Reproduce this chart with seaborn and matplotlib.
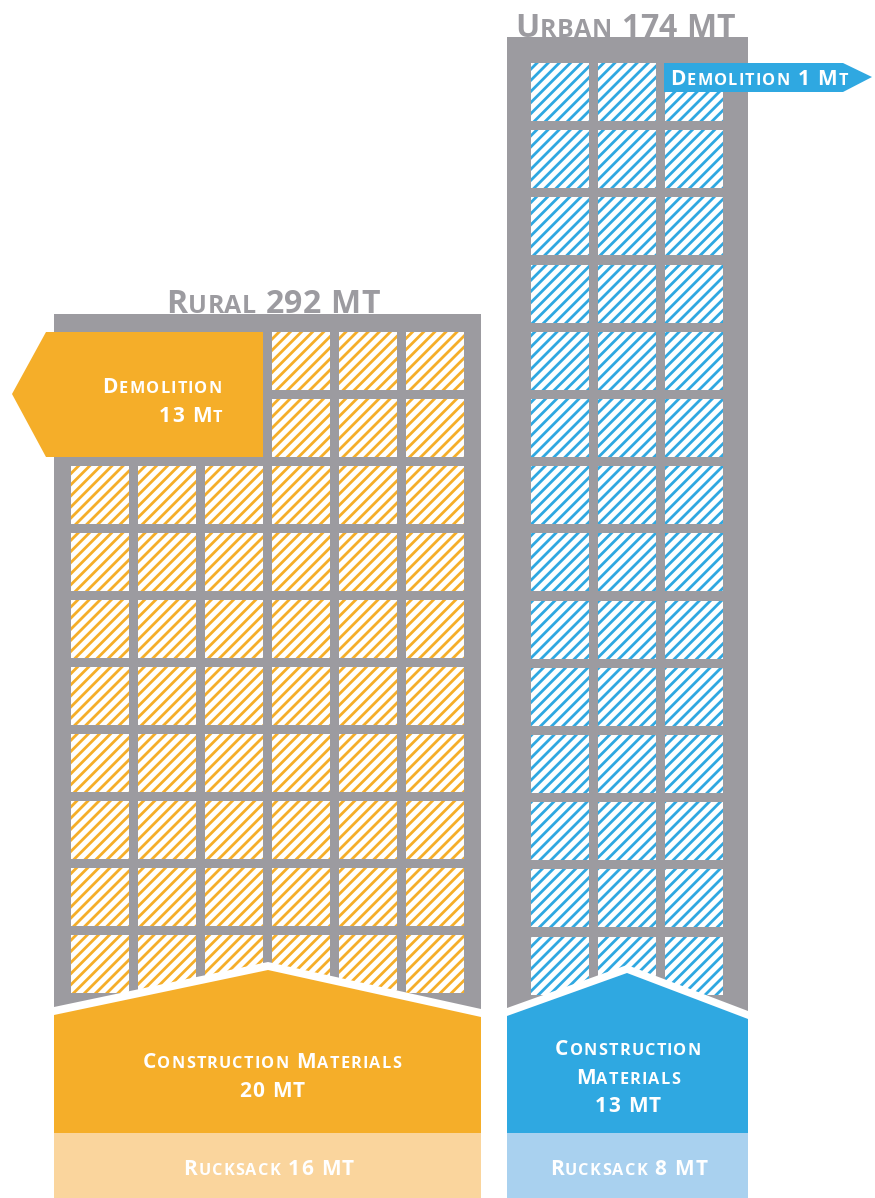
import matplotlib
matplotlib.use('Agg')
import matplotlib.pyplot as plt
from matplotlib.patches import Rectangle, Polygon
import seaborn as sns

categories = ['Rural', 'Urban']
totals = [292, 174]
demolition = [13, 1]
construction = [20, 13]
rucksack = [16, 8]
window_cols = [6, 3]
window_rows = [10, 14]

sns.set_theme(style='white')
plt.rcParams['font.family'] = ['Open Sans', 'DejaVu Sans']
plt.rcParams['hatch.linewidth'] = 2.0

gray = '#9c9ba0'
main = sns.color_palette(['#f5ae29', '#2fa8e1'])
light = sns.color_palette(['#fad59d', '#a9d1ef'])

# layout (in pixel units of the canvas)
bld_left = [54, 507]
bld_right = [481, 748]
bld_top = [314, 37]
win_x0 = [71, 531]
win_y0 = [332, 63]
win_step = [67, 67.2]
win_size = 58
roof = {  # left y, peak x, peak y, right y
    'Rural': (1015, 268, 970, 1017),
    'Urban': (1016, 627, 973, 1019),
}
base_top = 1133
bottom = 1198

_adv = {}


def advance(ax, ch, size, weight):
    key = (ch, size, weight)
    if key not in _adv:
        r = ax.figure.canvas.get_renderer()
        t1 = ax.text(0, 0, ch + '|', fontsize=size, weight=weight)
        t2 = ax.text(0, 0, '|', fontsize=size, weight=weight)
        _adv[key] = t1.get_window_extent(r).width - t2.get_window_extent(r).width
        t1.remove()
        t2.remove()
    return _adv[key]


def smallcaps(ax, x, y, s, size, color, ha='center', ratio=0.78, weight='bold', track=1.2):
    glyphs = []
    for ch in s:
        sz = size * ratio if ch.islower() else size
        glyphs.append((ch.upper(), sz, advance(ax, ch.upper(), sz, weight)))
    total = sum(g[2] for g in glyphs) + track * (len(glyphs) - 1)
    if ha == 'center':
        start = x - total / 2
    elif ha == 'right':
        start = x - total
    else:
        start = x
    for ch, sz, w in glyphs:
        if ch != ' ':
            ax.text(start, y, ch, fontsize=sz, color=color, ha='left', va='baseline',
                    weight=weight, zorder=10)
        start += w + track


fig = plt.figure(figsize=(8.75, 11.98), dpi=100)
ax = fig.add_axes([0, 0, 1, 1])
ax.set_xlim(0, 875)
ax.set_ylim(bottom, 0)
ax.axis('off')

for i, cat in enumerate(categories):
    l, r = bld_left[i], bld_right[i]
    ly, px, py, ry = roof[cat]
    ax.add_patch(Rectangle((l, bld_top[i]), r - l, ry - bld_top[i], color=gray, lw=0, zorder=1))
    for row in range(window_rows[i]):
        for col in range(window_cols[i]):
            if cat == 'Rural' and row < 2 and col < 3:
                continue  # hidden behind the demolition arrow
            ax.add_patch(Rectangle((win_x0[i] + col * win_step[i], win_y0[i] + row * win_step[i]),
                                   win_size, win_size, facecolor='white', edgecolor=main[i],
                                   lw=0, hatch='///', zorder=2))
    # white gap above the roof, then the construction block
    ax.add_patch(Polygon([(l, ly - 8), (px, py - 8), (r, ry - 8), (r, base_top), (l, base_top)],
                         closed=True, color='white', lw=0, zorder=3))
    ax.add_patch(Polygon([(l, ly), (px, py), (r, ry), (r, base_top), (l, base_top)],
                         closed=True, color=main[i], lw=0, zorder=4))
    ax.add_patch(Rectangle((l, base_top), r - l, bottom - base_top, color=light[i], lw=0, zorder=4))
    smallcaps(ax, (l + r) / 2 + 1, 1175, f'Rucksack {rucksack[i]} MT', 15, 'white')

# demolition arrows
ax.add_patch(Polygon([(12, 394), (46, 332), (263, 332), (263, 457), (46, 457)],
                     closed=True, color=main[0], lw=0, zorder=5))
ax.add_patch(Polygon([(664, 63), (843, 63), (872, 77), (843, 92), (664, 92)],
                     closed=True, color=main[1], lw=0, zorder=5))
smallcaps(ax, 222, 393, 'Demolition', 15, 'white', ha='right')
smallcaps(ax, 222, 422, f'{demolition[0]} Mt', 15, 'white', ha='right')
smallcaps(ax, 670, 85, f'Demolition {demolition[1]} Mt', 15, 'white', ha='left')

# construction labels
smallcaps(ax, 272, 1068, 'Construction Materials', 15, 'white')
smallcaps(ax, 272, 1097, f'{construction[0]} MT', 15, 'white')
smallcaps(ax, 628, 1055, 'Construction', 15, 'white')
smallcaps(ax, 628, 1084, 'Materials', 15, 'white')
smallcaps(ax, 628, 1112, f'{construction[1]} MT', 15, 'white')

# titles
smallcaps(ax, 273, 313, f'Rural {totals[0]} MT', 23, gray, track=0.5)
smallcaps(ax, 625, 37, f'Urban {totals[1]} MT', 23, gray, track=0.5)

fig.savefig('out.png', dpi=100)
